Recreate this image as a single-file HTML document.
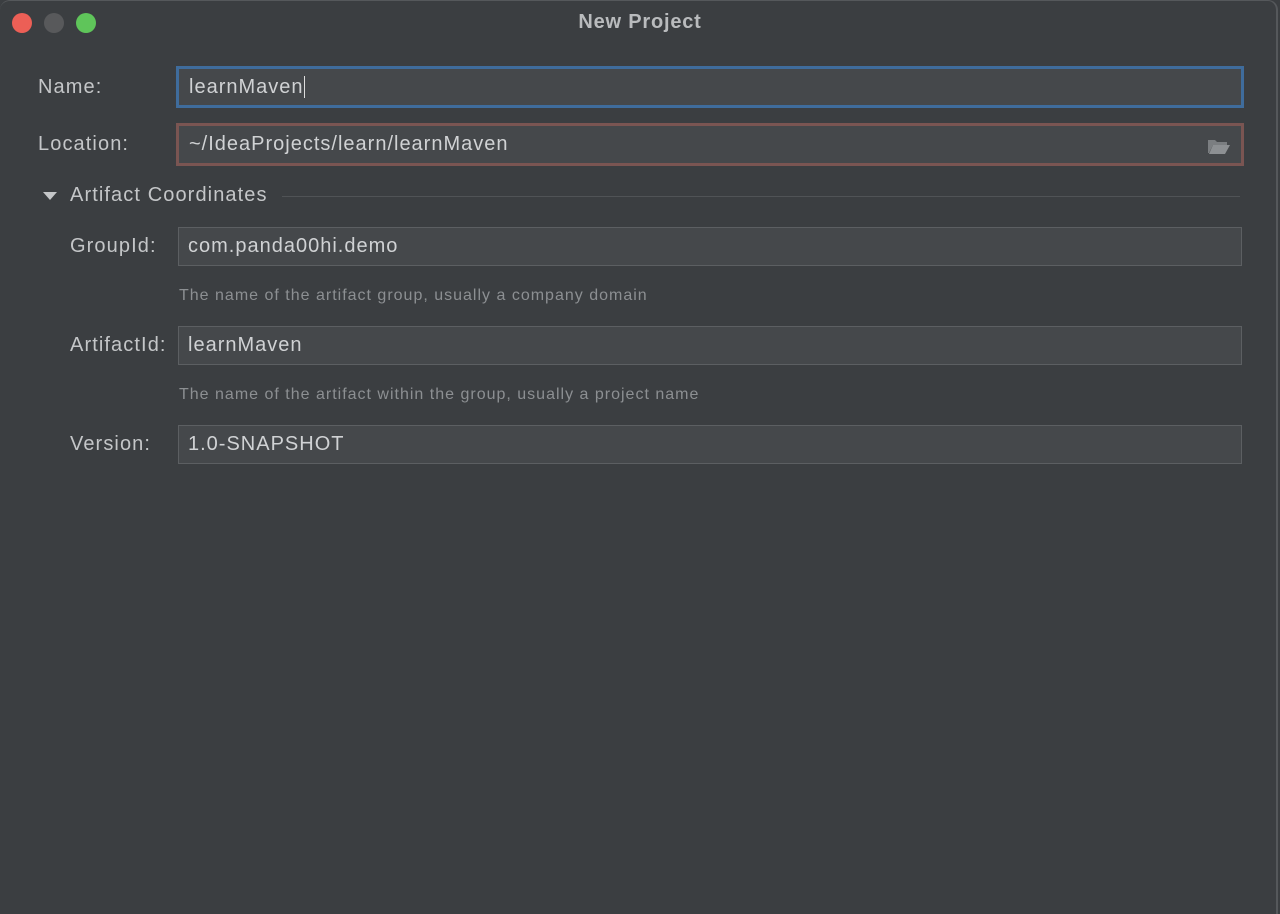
<!DOCTYPE html>
<html><head><style>
html,body{margin:0;padding:0;width:1280px;height:913px;overflow:hidden;background:#3b3e41;font-family:"Liberation Sans",sans-serif}
.win{position:absolute;left:0;top:0;width:1276px;height:913px;background:#3b3e41;border-right:2px solid #55585b;border-top:1px solid #55585b;border-radius:10px 10px 0 0}
.dot{position:absolute;top:12px;width:20px;height:20px;border-radius:50%}
.title{position:absolute;top:10px;left:0;width:1280px;text-align:center;color:#b9bbbd;font-weight:bold;font-size:20px;letter-spacing:0.8px}
.lbl{position:absolute;color:#c4c6c8;font-size:20px;letter-spacing:1.1px}
.f{position:absolute;background:#45484b;border:1px solid #5c5f62;color:#d0d2d4;font-size:20px;letter-spacing:1px;box-sizing:border-box;padding-left:9px;line-height:36px}
.hint{position:absolute;color:#8c8f92;font-size:16px;letter-spacing:1px}
</style></head><body>
<div class="win">
<div class="dot" style="left:12px;background:#ec5f56"></div>
<div class="dot" style="left:44px;background:#58595b"></div>
<div class="dot" style="left:76px;background:#5fc55a"></div>
<div class="title">New Project</div>
<div class="lbl" style="left:38px;top:75px">Name:</div>
<div class="f" style="left:176px;top:65px;width:1068px;height:42px;border:3px solid #3f6c9c;line-height:36px;padding-left:10px">learnMaven<span style="border-left:1px solid #ddd;margin-left:0px"></span></div>
<div class="lbl" style="left:38px;top:132px">Location:</div>
<div class="f" style="left:176px;top:122px;width:1068px;height:43px;border:3px solid #7a5552;line-height:37px;padding-left:10px">~/IdeaProjects/learn/learnMaven
<svg style="position:absolute;right:10px;top:11px" width="24" height="18"><path d="M1 3h7l2 2h10v3H6L2 16H1z" fill="#7b7e81"/><path d="M6 8h17l-5 9H2z" fill="#8d9093"/></svg></div>
<svg style="position:absolute;left:42px;top:189px" width="16" height="12"><path d="M1 2h14l-7 8z" fill="#c4c6c8"/></svg>
<div class="lbl" style="left:70px;top:183px">Artifact Coordinates</div>
<div style="position:absolute;left:282px;top:195px;width:958px;height:1px;background:#505356"></div>
<div class="lbl" style="left:70px;top:234px">GroupId:</div>
<div class="f" style="left:178px;top:226px;width:1064px;height:39px">com.panda00hi.demo</div>
<div class="hint" style="left:179px;top:286px">The name of the artifact group, usually a company domain</div>
<div class="lbl" style="left:70px;top:333px">ArtifactId:</div>
<div class="f" style="left:178px;top:325px;width:1064px;height:39px">learnMaven</div>
<div class="hint" style="left:179px;top:385px">The name of the artifact within the group, usually a project name</div>
<div class="lbl" style="left:70px;top:432px">Version:</div>
<div class="f" style="left:178px;top:424px;width:1064px;height:39px">1.0-SNAPSHOT</div>
</div>
</body></html>
